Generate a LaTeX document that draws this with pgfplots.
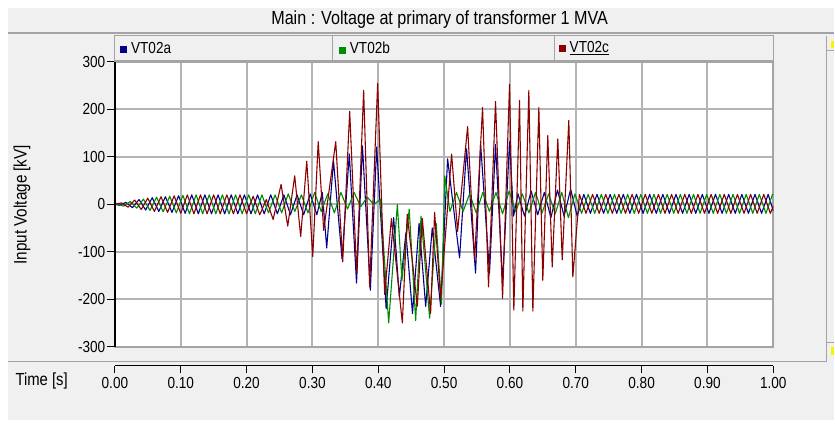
\documentclass[border=0pt]{standalone}
\usepackage{fontspec}
\setmainfont{Liberation Sans}[FakeStretch=0.85]
\usepackage{pgfplots}
\pgfplotsset{compat=1.18}
\definecolor{bg}{HTML}{F0F0F0}
\definecolor{gridc}{HTML}{A4A4A4}
\definecolor{gridl}{HTML}{B4B4B4}
\definecolor{cA}{RGB}{0,0,140}
\definecolor{cB}{RGB}{0,140,0}
\definecolor{cC}{RGB}{140,0,0}
\begin{document}
\begin{tikzpicture}
\begin{scope}[x=1pt,y=-1pt]
\fill[white] (0,0) rectangle (835,424);
\fill[bg] (8,8) rectangle (835,420);
\node[font=\fontsize{19}{22}\selectfont] at (440,20) {Main : Voltage at primary of transformer 1 MVA};
\draw[gridc, line width=1.5pt] (8,33) -- (835,33);
% legend cells
\draw[draw=gridc, line width=1pt, fill=bg] (115,36) rectangle (333,61);
\draw[draw=gridc, line width=1pt, fill=bg] (333,36) rectangle (555,61);
\draw[draw=gridc, line width=1pt, fill=bg] (555,36) rectangle (774,61);
\node[anchor=west, font=\fontsize{16}{18}\selectfont, inner sep=0pt] at (120,48) {\textcolor{cA}{\rule{7pt}{7pt}}\hspace{4pt}VT02a};
\node[anchor=west, font=\fontsize{16}{18}\selectfont, inner sep=0pt] at (339,48) {\textcolor{cB}{\rule{7pt}{7pt}}\hspace{4pt}VT02b};
\node[anchor=west, font=\fontsize{16}{18}\selectfont, inner sep=0pt] at (559,48) {\textcolor{cC}{\rule{7pt}{7pt}}\hspace{4pt}\underline{VT02c}};
% right strip
\draw[gridc, line width=1.5pt] (827,36) -- (827,362);
\draw[gridc, line width=1pt] (828,51) -- (835,51);
\draw[gridc, line width=1pt] (828,343) -- (835,343);
\fill[yellow] (832,41) rectangle (835,48);
\fill[yellow] (832,347) rectangle (835,355);
% bottom separator
\draw[gridc, line width=1.5pt] (8,362) -- (827,362);
\node[anchor=west, font=\fontsize{17.5}{20}\selectfont] at (12,381) {Time [s]};
\node[rotate=90, font=\fontsize{18}{21}\selectfont] at (22,205) {Input Voltage [kV]};
\end{scope}

\begin{axis}[at={(115pt,-62pt)}, anchor=north west, width=659pt, height=285pt, scale only axis,
  xmin=0, xmax=1, ymin=-300, ymax=300,
  xtick={0.1,0.2,0.3,0.4,0.5,0.6,0.7,0.8,0.9}, xticklabels={}, xtick style={draw=none},
  ytick={-300,-200,-100,0,100,200,300}, yticklabels={-300,-200,-100,0,100,200,300},
  ytick pos=left, tick align=outside, major tick length=8pt,
  ytick style={black, line width=1pt},
  yticklabel style={font=\fontsize{16}{18}\selectfont, inner sep=1.5pt},
  xmajorgrids, ymajorgrids, grid style={gridl, line width=2pt},
  axis line style={gridc, line width=1.8pt},
  axis background/.style={fill=white},
  every axis plot/.append style={line width=1.1pt, line join=round},
  ]
\addplot[cA] coordinates {
(0,0) (0.0067,-2) (0.0167,4) (0.0267,-7) (0.0367,10) (0.0467,-12) (0.0567,14) (0.0667,-15) (0.0767,16) (0.0867,-17) (0.0967,18) (0.1067,-19) (0.1167,20) (0.1267,-20) (0.1367,20) (0.1467,-20) (0.1567,20) (0.1667,-20) (0.1767,20) (0.1867,-20) (0.1967,20) (0.2067,-20) (0.2167,20) (0.2267,-20) (0.2367,20) (0.2467,-20) (0.2567,20) (0.2667,-22) (0.2767,20) (0.2867,-22) (0.2967,22) (0.3067,-22) (0.3150,25) (0.3217,-92) (0.3320,92) (0.3450,-115) (0.3560,106) (0.3670,-166) (0.3760,123) (0.3880,-181) (0.3976,121)
(0.4120,-220) (0.4234,-28) (0.4320,-195) (0.4420,-60) (0.4520,-230) (0.4620,-40) (0.4720,-215) (0.4820,-50) (0.4947,-215)
(0.5053,96) (0.5235,-113) (0.5341,117) (0.5478,-145) (0.5554,128) (0.5690,-145) (0.5781,126) (0.5888,-164) (0.5994,132) (0.6055,-25) (0.6122,22) (0.6222,-25) (0.6322,28) (0.6422,-22) (0.6522,25) (0.6622,-28) (0.6722,30) (0.6822,-25) (0.6922,32) (0.7022,-25)
(0.7122,21) (0.7222,-19) (0.7322,21) (0.7422,-19) (0.7522,21) (0.7622,-19) (0.7722,21) (0.7822,-19) (0.7922,21) (0.8022,-19) (0.8122,21) (0.8222,-19) (0.8322,21) (0.8422,-19) (0.8522,21) (0.8622,-19) (0.8722,21) (0.8822,-19) (0.8922,21) (0.9022,-19) (0.9122,21) (0.9222,-19) (0.9322,21) (0.9422,-19) (0.9522,21) (0.9622,-19) (0.9722,21) (0.9822,-19) (0.9922,21) (1,-14)
};
\addplot[cB] coordinates {
(0,0) (0.0033,1) (0.0133,-4) (0.0233,6) (0.0333,-8) (0.0433,11) (0.0533,-13) (0.0633,15) (0.0733,-16) (0.0833,17) (0.0933,-18) (0.1033,19) (0.1133,-20) (0.1233,20) (0.1333,-20) (0.1433,20) (0.1533,-20) (0.1633,20) (0.1733,-20) (0.1833,20) (0.1933,-20) (0.2033,20) (0.2133,-20) (0.2233,20) (0.2333,-18) (0.2433,20) (0.2533,-18) (0.2633,22) (0.2733,-15) (0.2833,20) (0.2933,-18) (0.3033,25) (0.3133,-15) (0.3233,22) (0.3333,-18) (0.3433,25) (0.3533,-10) (0.3633,25) (0.3733,-5) (0.3833,15) (0.3933,0) (0.4033,10)
(0.4158,-250) (0.4290,0) (0.4360,-160) (0.4470,-10) (0.4568,-245) (0.4650,-25) (0.4780,-240) (0.4880,-40) (0.4960,-210) (0.5010,60)
(0.5088,-15) (0.5188,25) (0.5288,-15) (0.5388,22) (0.5488,-18) (0.5588,25) (0.5688,-15) (0.5788,25) (0.5888,-20) (0.5988,28) (0.6088,-15) (0.6188,22) (0.6288,-18) (0.6388,25) (0.6488,-18) (0.6588,22) (0.6688,-20) (0.6788,25) (0.6888,-28) (0.6988,22)
(0.7088,-19) (0.7188,21) (0.7288,-19) (0.7388,21) (0.7488,-19) (0.7588,21) (0.7688,-19) (0.7788,21) (0.7888,-19) (0.7988,21) (0.8088,-19) (0.8188,21) (0.8288,-19) (0.8388,21) (0.8488,-19) (0.8588,21) (0.8688,-19) (0.8788,21) (0.8888,-19) (0.8988,21) (0.9088,-19) (0.9188,21) (0.9288,-19) (0.9388,21) (0.9488,-19) (0.9588,21) (0.9688,-19) (0.9788,21) (0.9888,-19) (0.9988,21) (1,20)
};
\addplot[cC] coordinates {
(0,0) (0.01,3) (0.02,-6) (0.03,9) (0.04,-11) (0.05,13) (0.06,-15) (0.07,16) (0.08,-17) (0.09,18) (0.10,-19) (0.11,20) (0.12,-20) (0.13,20) (0.14,-20) (0.15,20) (0.16,-20) (0.17,20) (0.18,-20) (0.19,20) (0.20,-20) (0.21,17) (0.22,-22) (0.23,10)
(0.2403,-32) (0.2524,42) (0.2625,-46) (0.2731,60) (0.2822,-68) (0.2914,91) (0.3005,-110) (0.3088,132) (0.3171,-55) (0.3354,132) (0.3460,-121) (0.3566,196) (0.3672,-145) (0.3778,240) (0.3869,-174) (0.3991,255) (0.4097,-190)
(0.4200,-30) (0.4366,-250) (0.4440,-21) (0.4593,-215) (0.4669,-30) (0.4795,-230) (0.4856,-17) (0.4947,-200)
(0.5114,106) (0.5205,-57) (0.5357,164) (0.5463,-117) (0.5584,204) (0.5675,-174) (0.5781,217) (0.5888,-198) (0.5994,253) (0.6059,-223) (0.6146,219) (0.6196,-225) (0.6287,240) (0.6348,-225) (0.6439,204) (0.6499,-160) (0.6575,145) (0.6642,-132) (0.6727,138) (0.6794,-117) (0.6894,177) (0.6955,-153)
(0.7055,21) (0.7155,-19) (0.7255,21) (0.7355,-19) (0.7455,21) (0.7555,-19) (0.7655,21) (0.7755,-19) (0.7855,21) (0.7955,-19) (0.8055,21) (0.8155,-19) (0.8255,21) (0.8355,-19) (0.8455,21) (0.8555,-19) (0.8655,21) (0.8755,-19) (0.8855,21) (0.8955,-19) (0.9055,21) (0.9155,-19) (0.9255,21) (0.9355,-19) (0.9455,21) (0.9555,-19) (0.9655,21) (0.9755,-19) (0.9855,21) (0.9955,-19) (1,-4)
};
\end{axis}

\begin{axis}[at={(115pt,-366pt)}, anchor=south west, width=659pt, height=0.5pt, scale only axis,
  xmin=0, xmax=1, ymin=0, ymax=1,
  axis x line=bottom, hide y axis,
  axis line style={-, black, line width=1.2pt},
  xtick={0,0.1,0.2,0.3,0.4,0.5,0.6,0.7,0.8,0.9,1},
  xticklabels={0.00,0.10,0.20,0.30,0.40,0.50,0.60,0.70,0.80,0.90,1.00},
  tick align=outside, major tick length=7pt,
  xtick style={black, line width=1pt},
  xticklabel style={font=\fontsize{16}{18}\selectfont, inner sep=2pt, yshift=-2pt},
  ]
\end{axis}

\begin{scope}[x=1pt,y=-1pt]
\draw[black, line width=1.5pt] (115,62) -- (115,347);
\end{scope}
\end{tikzpicture}
\end{document}
